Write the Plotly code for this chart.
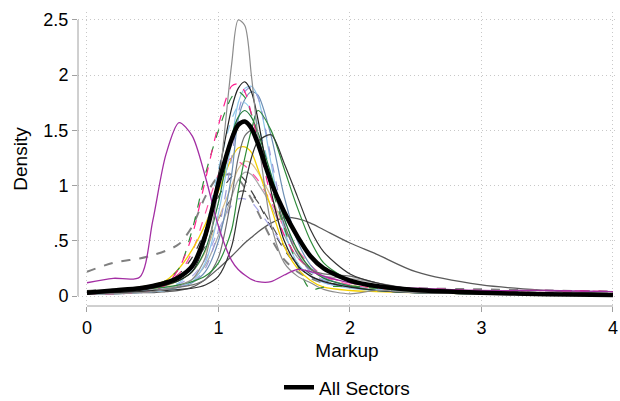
import plotly.graph_objects as go

# Markup grid (x values shared by all density curves)
markup = [0, 0.2, 0.4, 0.5, 0.6, 0.7, 0.8, 0.9, 1.0, 1.1, 1.15, 1.2, 1.25, 1.3,
          1.4, 1.5, 1.6, 1.7, 1.8, 2.0, 2.2, 2.5, 3.0, 3.5, 4.0]

# Sector densities
all_sectors = [0.03, 0.05, 0.07, 0.09, 0.12, 0.17, 0.27, 0.55, 1.02, 1.42, 1.55, 1.58, 1.52, 1.38,
               1.03, 0.76, 0.54, 0.36, 0.25, 0.14, 0.09, 0.055, 0.03, 0.015, 0.01]
tall_grey = [0.02, 0.02, 0.03, 0.04, 0.06, 0.09, 0.15, 0.35, 1.0, 2.1, 2.5, 2.45, 2.0, 1.45,
             0.65, 0.3, 0.18, 0.12, 0.06, 0.02, 0.05, 0.03, 0.02, 0.01, 0.01]
black_thin = [0.02, 0.03, 0.05, 0.07, 0.1, 0.14, 0.22, 0.5, 1.1, 1.7, 1.88, 1.94, 1.85, 1.6,
              0.95, 0.5, 0.28, 0.18, 0.13, 0.08, 0.05, 0.03, 0.02, 0.01, 0.01]
purple = [0.12, 0.16, 0.17, 0.68, 1.28, 1.57, 1.45, 1.08, 0.63, 0.32, 0.24, 0.19, 0.15, 0.13,
          0.13, 0.19, 0.24, 0.22, 0.18, 0.12, 0.09, 0.07, 0.05, 0.05, 0.04]
grey_wide = [0.02, 0.02, 0.03, 0.03, 0.04, 0.05, 0.08, 0.15, 0.25, 0.36, 0.42, 0.48, 0.53, 0.58,
             0.66, 0.71, 0.70, 0.66, 0.6, 0.48, 0.38, 0.22, 0.1, 0.05, 0.02]
grey_dashed = [0.22, 0.3, 0.34, 0.37, 0.41, 0.47, 0.63, 0.9, 1.08, 1.1, 1.06, 0.98, 0.88, 0.76,
               0.52, 0.33, 0.22, 0.16, 0.12, 0.09, 0.08, 0.07, 0.06, 0.05, 0.04]
dgrey_dash1 = [0.05, 0.06, 0.08, 0.1, 0.13, 0.2, 0.35, 0.6, 0.9, 1.08, 1.1, 1.05, 0.95, 0.85,
               0.62, 0.42, 0.27, 0.18, 0.13, 0.09, 0.07, 0.05, 0.04, 0.03, 0.02]
dgrey_dash2 = [0.04, 0.05, 0.07, 0.09, 0.12, 0.17, 0.28, 0.45, 0.7, 0.88, 0.94, 0.95, 0.92, 0.85,
               0.65, 0.45, 0.3, 0.2, 0.14, 0.09, 0.06, 0.04, 0.03, 0.02, 0.01]
green = [0.03, 0.04, 0.06, 0.07, 0.08, 0.1, 0.13, 0.18, 0.3, 0.6, 0.95, 1.25, 1.5, 1.68,
         1.5, 1.15, 0.8, 0.5, 0.3, 0.14, 0.08, 0.04, 0.02, 0.01, 0.01]
dark_thin = [0.02, 0.03, 0.04, 0.05, 0.05, 0.06, 0.07, 0.1, 0.18, 0.45, 0.75, 1.0, 1.25, 1.4,
             1.46, 1.2, 0.9, 0.6, 0.4, 0.2, 0.12, 0.06, 0.03, 0.02, 0.01]
green_dashed = [0.03, 0.05, 0.08, 0.1, 0.14, 0.25, 0.6, 1.1, 1.5, 1.8, 1.85, 1.8, 1.65, 1.45,
                1.0, 0.62, 0.28, 0.06, 0.08, 0.09, 0.07, 0.05, 0.03, 0.02, 0.01]
pink_high = [0.02, 0.02, 0.03, 0.05, 0.1, 0.25, 0.55, 1.05, 1.55, 1.9, 1.92, 1.85, 1.65, 1.4,
             0.9, 0.55, 0.35, 0.25, 0.18, 0.12, 0.09, 0.07, 0.05, 0.05, 0.04]
pink_low = [0.03, 0.04, 0.06, 0.08, 0.12, 0.2, 0.4, 0.75, 1.1, 1.25, 1.22, 1.18, 1.12, 1.05,
            0.85, 0.62, 0.42, 0.28, 0.18, 0.1, 0.07, 0.05, 0.04, 0.05, 0.04]
light_blue = [0.02, 0.02, 0.03, 0.04, 0.05, 0.08, 0.13, 0.3, 0.75, 1.4, 1.75, 1.88, 1.9, 1.8,
              1.2, 0.6, 0.3, 0.18, 0.12, 0.07, 0.05, 0.03, 0.02, 0.01, 0.01]
light_blue_dash = [0.03, 0.03, 0.04, 0.06, 0.08, 0.12, 0.25, 0.6, 1.15, 1.6, 1.72, 1.75, 1.68, 1.55,
                   1.1, 0.65, 0.38, 0.22, 0.15, 0.09, 0.06, 0.04, 0.02, 0.01, 0.01]
lavender_dash = [0.03, 0.03, 0.04, 0.05, 0.06, 0.08, 0.12, 0.25, 0.6, 1.25, 1.65, 1.85, 1.89, 1.8,
                 1.25, 0.7, 0.38, 0.22, 0.14, 0.08, 0.05, 0.03, 0.02, 0.01, 0.01]
lavender_low = [0.03, 0.04, 0.06, 0.07, 0.08, 0.11, 0.18, 0.33, 0.6, 0.82, 0.88, 0.88, 0.85, 0.78,
                0.62, 0.44, 0.28, 0.18, 0.12, 0.08, 0.05, 0.03, 0.02, 0.01, 0.01]
yellow = [0.04, 0.05, 0.08, 0.1, 0.14, 0.25, 0.42, 0.65, 0.95, 1.25, 1.34, 1.35, 1.3, 1.15,
          0.8, 0.45, 0.25, 0.14, 0.08, 0.05, 0.04, 0.03, 0.02, 0.01, 0.01]
tan = [0.03, 0.04, 0.06, 0.07, 0.09, 0.14, 0.22, 0.4, 0.7, 1.0, 1.15, 1.22, 1.2, 1.12,
       0.9, 0.62, 0.4, 0.25, 0.16, 0.1, 0.07, 0.05, 0.03, 0.02, 0.01]
light_grey = [0.03, 0.04, 0.05, 0.06, 0.07, 0.1, 0.15, 0.28, 0.55, 0.9, 1.05, 1.12, 1.1, 1.02,
              0.82, 0.55, 0.35, 0.24, 0.18, 0.16, 0.12, 0.06, 0.03, 0.02, 0.01]
steel = [0.03, 0.03, 0.04, 0.05, 0.06, 0.08, 0.12, 0.22, 0.5, 1.1, 1.6, 1.78, 1.85, 1.82,
         1.45, 0.9, 0.5, 0.28, 0.17, 0.09, 0.05, 0.03, 0.02, 0.01, 0.01]
dark_green = [0.04, 0.05, 0.07, 0.08, 0.1, 0.14, 0.22, 0.42, 0.85, 1.45, 1.62, 1.68, 1.62, 1.48,
              1.1, 0.7, 0.42, 0.25, 0.16, 0.09, 0.05, 0.03, 0.02, 0.01, 0.01]
grey_mid = [0.02, 0.03, 0.04, 0.05, 0.06, 0.08, 0.1, 0.15, 0.35, 0.9, 1.25, 1.45, 1.5, 1.42,
            1.05, 0.65, 0.38, 0.24, 0.2, 0.18, 0.12, 0.06, 0.03, 0.02, 0.01]

sector_styles = [
    (grey_wide, "#5a5a5a", "solid", 1.3),
    (grey_dashed, "#808080", "dash", 2.0),
    (dgrey_dash1, "#404040", "dash", 1.2),
    (dgrey_dash2, "#555555", "dash", 1.2),
    (lavender_low, "#a9a9e8", "dash", 1.2),
    (light_grey, "#a8a8a8", "solid", 1.2),
    (tan, "#d8c08c", "solid", 1.2),
    (pink_low, "#ff4fa0", "dash", 1.2),
    (yellow, "#f5d000", "solid", 1.3),
    (steel, "#6d8fb5", "solid", 1.2),
    (light_blue_dash, "#8fc8ea", "dash", 1.2),
    (light_blue, "#8ec5ea", "solid", 1.2),
    (lavender_dash, "#9a9ad8", "dash", 1.2),
    (dark_green, "#1f7a3a", "solid", 1.2),
    (green_dashed, "#2e8b3a", "dash", 1.2),
    (pink_high, "#ff1f8f", "dash", 1.2),
    (grey_mid, "#6e6e6e", "solid", 1.2),
    (green, "#2e8b3a", "solid", 1.2),
    (dark_thin, "#333333", "solid", 1.2),
    (black_thin, "#222222", "solid", 1.2),
    (tall_grey, "#8c8c8c", "solid", 1.2),
    (purple, "#a32ea3", "solid", 1.3),
]

fig = go.Figure()
for ys, col, dash, w in sector_styles:
    fig.add_trace(go.Scatter(x=markup, y=ys, mode="lines", showlegend=False,
                             line=dict(color=col, dash=dash, width=w, shape="spline", smoothing=0.8)))

fig.add_trace(go.Scatter(x=markup, y=all_sectors, mode="lines", name="All Sectors",
                         line=dict(color="black", width=4.5, shape="spline", smoothing=0.8)))

x_ticks = [0, 1, 2, 3, 4]
y_ticks = [0, 0.5, 1, 1.5, 2, 2.5]
y_labels = ["0", ".5", "1", "1.5", "2", "2.5"]

family = "Liberation Sans, Arial, sans-serif"
tick_font = dict(family=family, size=18, color="black")
title_font = dict(family=family, size=19, color="black")
axis_grey = "#a0a0a0"
grid_col = "#c8c8c8"

fig.update_layout(
    width=620, height=401,
    margin=dict(l=78, r=4, t=12, b=95, autoexpand=False),
    plot_bgcolor="white", paper_bgcolor="white",
    font=tick_font,
    xaxis=dict(range=[-0.0684, 4.023], tickvals=x_ticks, ticktext=[str(t) for t in x_ticks],
               tickfont=tick_font, automargin=False,
               showline=False, zeroline=False, showgrid=True, gridcolor=grid_col,
               griddash="1px,3px", gridwidth=1, ticks="outside", ticklen=5, tickcolor=axis_grey,
               title=dict(text="Markup", font=title_font, standoff=7)),
    yaxis=dict(range=[-0.0906, 2.572], tickvals=y_ticks, ticktext=y_labels,
               tickfont=tick_font, automargin=False,
               showline=False, zeroline=False, showgrid=True, gridcolor=grid_col,
               griddash="1px,3px", gridwidth=1, ticks="outside", ticklen=5, tickcolor=axis_grey,
               title=dict(text="Density", font=title_font, standoff=10)),
    legend=dict(orientation="h", x=0.5, xanchor="center", y=-0.212, yanchor="top",
                font=title_font),
    shapes=[
        dict(type="line", xref="x", yref="paper", x0=0, x1=4, y0=0, y1=0,
             line=dict(color=axis_grey, width=1)),
        dict(type="line", xref="paper", yref="y", x0=0, x1=0, y0=0, y1=2.5,
             line=dict(color=axis_grey, width=1)),
    ],
)

fig.write_html("out.html")
